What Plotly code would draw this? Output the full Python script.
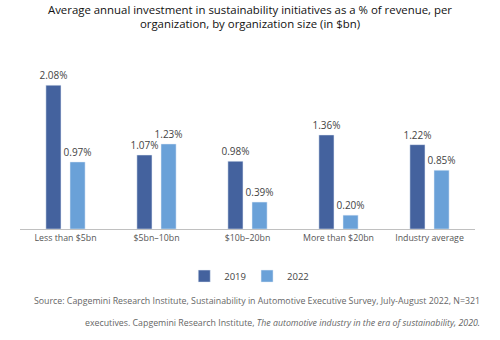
import plotly.graph_objects as go

categories = ["Less than $5bn", "$5bn–10bn", "$10b–20bn", "More than $20bn", "Industry average"]
values_2019 = [2.08, 1.07, 0.98, 1.36, 1.22]
values_2022 = [0.97, 1.23, 0.39, 0.20, 0.85]
series_names = ["2019", "2022"]
colors = ["#44629e", "#6aa1d8"]

font_family = "Open Sans, Noto Sans, sans-serif"

fig = go.Figure()
for name, vals, col, lg in zip(series_names, [values_2019, values_2022], colors, ["legend", "legend2"]):
    fig.add_trace(go.Bar(
        x=categories, y=vals, name=name, marker_color=col, legend=lg,
        text=[f"{v:.2f}%" for v in vals], textposition="outside",
        constraintext="none",
        textfont=dict(size=10, color="#444"), cliponaxis=False,
    ))

leg_common = dict(orientation="h", y=-0.296, yanchor="middle", xanchor="left",
                  font=dict(size=9.5, color="#444"), itemwidth=30, bgcolor="rgba(0,0,0,0)")

fig.update_layout(
    width=500, height=340,
    margin=dict(l=20, r=25, t=70, b=111),
    paper_bgcolor="white", plot_bgcolor="white",
    font=dict(family=font_family, color="#444"),
    barmode="group", bargap=0.47, bargroupgap=0.375,
    title=dict(
        text="Average annual investment in sustainability initiatives as a % of revenue, per<br>organization, by organization size (in $bn)",
        x=0.5, xanchor="center", y=0.96, yanchor="top",
        font=dict(size=11.4, color="#111", family=font_family),
    ),
    xaxis=dict(showline=True, linecolor="#c0c0c0", linewidth=1, ticks="",
               tickfont=dict(size=8.8, color="#555"), showgrid=False),
    yaxis=dict(range=[0, 2.3], visible=False, showgrid=False),
    legend=dict(x=0.361, **leg_common),
    legend2=dict(x=0.499, **leg_common),
    showlegend=True,
)

fig.add_annotation(
    text="Source: Capgemini Research Institute, Sustainability in Automotive Executive Survey, July-August 2022, N=321",
    xref="paper", yref="paper", x=1.016, y=-0.45, xanchor="right", yanchor="middle",
    showarrow=False, font=dict(size=8.8, color="#666"), align="right",
)
fig.add_annotation(
    text="executives. Capgemini Research Institute, <i>The automotive industry in the era of sustainability, 2020.</i>",
    xref="paper", yref="paper", x=1.016, y=-0.59, xanchor="right", yanchor="middle",
    showarrow=False, font=dict(size=8.8, color="#666"), align="right",
)

fig.write_html("out.html")
